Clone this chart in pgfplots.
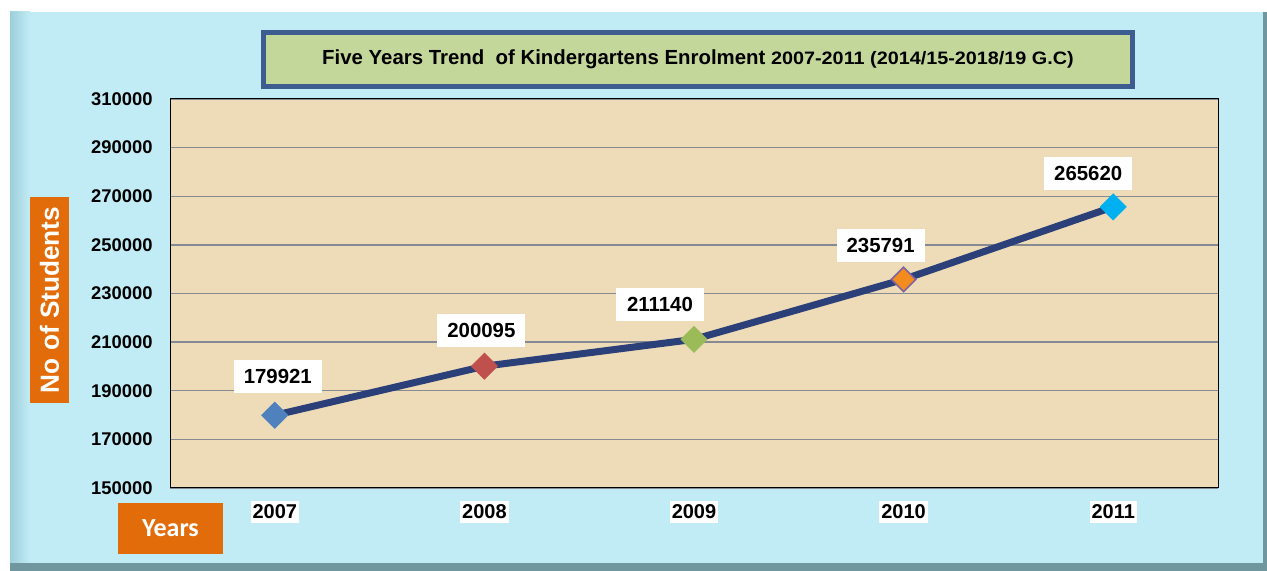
\documentclass[border=0pt]{standalone}
\usepackage{pgfplots}
\pgfplotsset{compat=1.18}
\usepackage{fontspec}
\setmainfont{Liberation Sans}
\newfontfamily\carlito{Carlito}
\definecolor{bgblue}{HTML}{C2ECF5}
\definecolor{bevel}{HTML}{9CCFDA}
\definecolor{frameedge}{HTML}{6F979D}
\definecolor{parch}{HTML}{EEDCB8}
\definecolor{gridc}{HTML}{868A92}
\definecolor{navy}{HTML}{2B4078}
\definecolor{tgreen}{HTML}{C4D79B}
\definecolor{tblue}{HTML}{3D5C8F}
\definecolor{orng}{HTML}{E36C0A}
\definecolor{m1}{HTML}{4F81BD}
\definecolor{m2}{HTML}{C0504D}
\definecolor{m3}{HTML}{9BBB59}
\definecolor{m4}{HTML}{F38B1E}
\definecolor{m4e}{HTML}{8064A2}
\definecolor{m5}{HTML}{00B0F0}
\begin{document}
\begin{tikzpicture}[x=1pt,y=1pt]
\path[use as bounding box] (0,0) rectangle (633.5,285.5);
% outer frame
\fill[frameedge] (5,0) rectangle (633.5,279.5);
\fill[bgblue] (5,4) rectangle (631.5,279.5);
\shade[left color=bevel, right color=bgblue] (5,4) rectangle (15,279.5);
% title box
\draw[tblue, line width=2.5pt, fill=tgreen] (131.5,242) rectangle (566,269);
\node[anchor=center, inner sep=0pt] at (349,256) {\bfseries\fontsize{10.2}{12}\selectfont Five Years Trend\ \ of Kindergartens Enrolment \scalebox{1.1}[1]{\fontsize{9}{11}\selectfont 2007-2011 (2014/15-2018/19 G.C)}};
% y label
\node[fill=orng, inner sep=0pt, text=white, rotate=90, anchor=center, minimum width=103pt, minimum height=19.5pt] at (24.75,135.5) {\bfseries\fontsize{13.1}{15}\selectfont No of Students};
% x label
\node[fill=orng, minimum width=52.5pt, minimum height=25.5pt, inner sep=0pt, text=white] at (85.25,21.25) {\carlito\bfseries\fontsize{13}{15}\selectfont Years};
\begin{axis}[
  at={(85pt,41.5pt)}, anchor=south west,
  scale only axis, width=524pt, height=194.5pt,
  xmin=-0.5, xmax=4.5, ymin=150000, ymax=310000,
  xtick={0,1,2,3,4}, xticklabels={2007,2008,2009,2010,2011},
  ytick={150000,170000,...,310000},
  scaled y ticks=false,
  /pgf/number format/assume math mode=true,
  yticklabel style={/pgf/number format/fixed, /pgf/number format/1000 sep={}, font=\bfseries\fontsize{9.2}{10}\selectfont, anchor=east, inner sep=0pt, xshift=-8.5pt},
  xticklabel style={font=\bfseries\fontsize{10}{11}\selectfont, fill=white, inner xsep=1pt, inner ysep=2pt, anchor=center, yshift=-12pt},
  major tick length=0pt,
  ymajorgrids, major grid style={gridc, line width=0.7pt},
  axis line style={black, line width=0.5pt},
  axis background/.style={fill=parch},
  clip=false,
  lbl/.style={only marks, mark=square*, mark size=4.6pt, point meta=explicit symbolic, nodes near coords},
  every node near coord/.style={fill=white, text=black, font=\bfseries\fontsize{10.2}{12}\selectfont, minimum width=44pt, minimum height=16.5pt, inner sep=0pt, anchor=center},
]
\addplot[navy, line width=3.5pt, no marks] coordinates {(0,179921) (1,200095) (2,211140) (3,235791) (4,265620)};
\addplot[lbl, mark options={rotate=45, fill=m1, draw=m1}, every node near coord/.append style={xshift=1.5pt, yshift=19.5pt}] coordinates {(0,179921) [179921]};
\addplot[lbl, mark options={rotate=45, fill=m2, draw=m2}, every node near coord/.append style={xshift=-1.5pt, yshift=18pt}] coordinates {(1,200095) [200095]};
\addplot[lbl, mark options={rotate=45, fill=m3, draw=m3}, every node near coord/.append style={xshift=-17pt, yshift=17.5pt}] coordinates {(2,211140) [211140]};
\addplot[lbl, mark size=4.3pt, mark options={rotate=45, fill=m4, draw=m4e, line width=0.8pt}, every node near coord/.append style={xshift=-11.5pt, yshift=17pt}] coordinates {(3,235791) [235791]};
\addplot[lbl, mark options={rotate=45, fill=m5, draw=m5}, every node near coord/.append style={xshift=-12.5pt, yshift=16.5pt}] coordinates {(4,265620) [265620]};
\end{axis}
\end{tikzpicture}
\end{document}
